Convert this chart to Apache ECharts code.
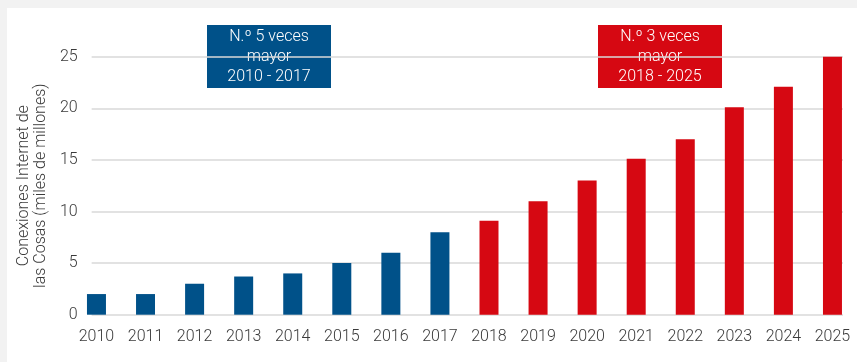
<!DOCTYPE html>
<html>
<head>
<meta charset="utf-8">
<script src="https://cdn.jsdelivr.net/npm/echarts@6/dist/echarts.min.js"></script>
<style>
  html, body { margin: 0; padding: 0; background: #f2f2f2; }
  #chart {
    position: absolute;
    left: 7px;
    top: 8px;
    width: 850px;
    height: 354px;
    background: #ffffff;
  }
</style>
</head>
<body>
<div id="chart"></div>
<script>
// datos
const years = ['2010', '2011', '2012', '2013', '2014', '2015', '2016', '2017',
  '2018', '2019', '2020', '2021', '2022', '2023', '2024', '2025']
const connections = [2, 2, 3, 3.7, 4, 5, 6, 8, 9.1, 11, 13, 15.1, 17, 20.1, 22.1, 25.1]
const yTicks = [0, 5, 10, 15, 20, 25]
const yName = 'Conexiones Internet de\nlas Cosas (miles de millones)'
const noteBlue = 'N.º 5 veces\nmayor\n2010 - 2017'
const noteRed = 'N.º 3 veces\nmayor\n2018 - 2025'
const firstRedYear = '2018'

const BLUE = '#005189'
const RED = '#d60812'
const TEXT = '#3a3a3a'
const FONT = 'Roboto, "Open Sans", sans-serif'

const chart = echarts.init(document.getElementById('chart'))

const redIndex = years.indexOf(firstRedYear)

function note(cx, color, text) {
  return {
    type: 'group',
    left: cx - 62,
    top: 17,
    children: [
      { type: 'rect', shape: { x: 0, y: 0, width: 124, height: 63 }, style: { fill: color } },
      {
        type: 'text',
        x: 62,
        y: 32,
        style: {
          text: text,
          fill: '#ffffff',
          font: '300 16px ' + FONT,
          align: 'center',
          verticalAlign: 'middle',
          lineHeight: 20
        }
      }
    ]
  }
}

const option = {
  animation: false,
  textStyle: { fontFamily: FONT, fontWeight: 300 },
  grid: [
    // barras
    { left: 64.93, width: 786.13, top: 48.7, height: 258 },
    // líneas de la cuadrícula
    { left: 80, width: 756, top: 48.7, height: 258 }
  ],
  xAxis: [
    {
      type: 'category',
      gridIndex: 0,
      data: years,
      boundaryGap: true,
      axisLine: { show: false },
      axisTick: { show: false },
      axisLabel: { color: TEXT, fontSize: 16, fontWeight: 300, margin: 14 }
    },
    {
      type: 'value',
      gridIndex: 1,
      min: 0,
      max: 1,
      show: false
    }
  ],
  yAxis: [
    {
      type: 'value',
      gridIndex: 0,
      min: yTicks[0],
      max: yTicks[yTicks.length - 1],
      interval: 5,
      show: false
    },
    {
      type: 'value',
      gridIndex: 1,
      min: yTicks[0],
      max: yTicks[yTicks.length - 1],
      interval: 5,
      name: yName,
      nameLocation: 'middle',
      nameGap: 37,
      nameTextStyle: { color: TEXT, fontSize: 16, fontWeight: 300, lineHeight: 17 },
      axisLine: { show: false },
      axisTick: { show: false },
      axisLabel: { color: TEXT, fontSize: 16, fontWeight: 300, margin: 14 },
      splitLine: { lineStyle: { color: '#d9d9d9', width: 1.5 } }
    }
  ],
  series: [
    {
      type: 'bar',
      xAxisIndex: 0,
      yAxisIndex: 0,
      barWidth: 19,
      data: connections.map((v, i) => ({
        value: v,
        itemStyle: { color: i < redIndex ? BLUE : RED }
      }))
    }
  ],
  graphic: [
    note(262, BLUE, noteBlue),
    note(653, RED, noteRed)
  ]
}

chart.setOption(option)
</script>
</body>
</html>
